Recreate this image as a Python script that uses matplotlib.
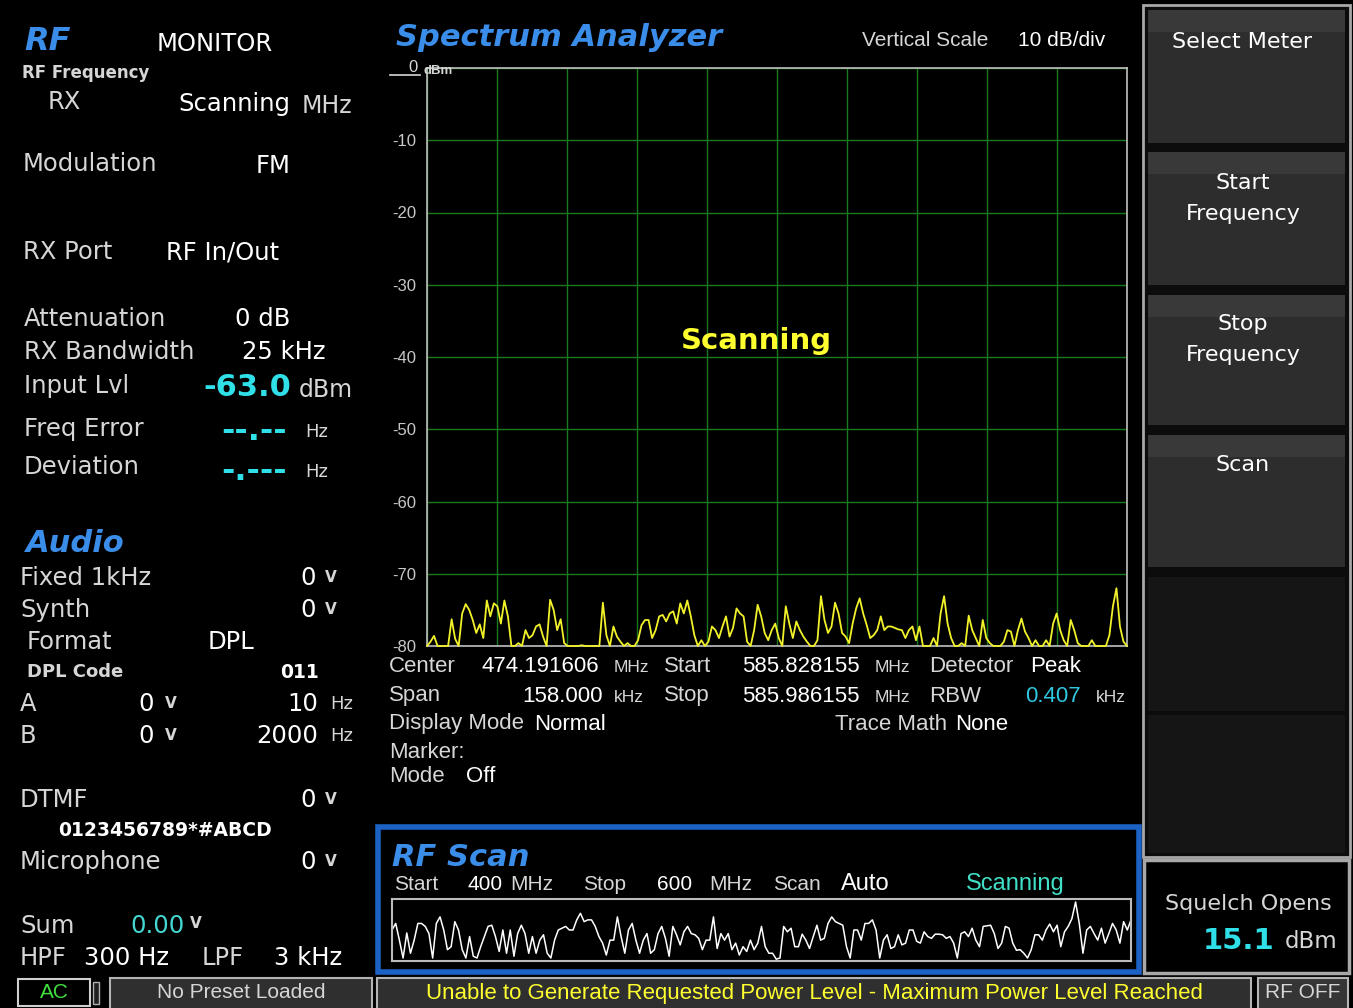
import numpy as np
import matplotlib.pyplot as plt
from matplotlib.patches import Rectangle

W, H = 1353, 1008

# spectrum analyzer trace, dBm per bin between start and stop
spec_start_mhz = 585.828155
spec_stop_mhz = 585.986155
spec_level = [
    -80, -79.4, -78.6, -80, -80, -80, -80, -76.3, -79.0, -80,
    -75.5, -74.2, -75.0, -76.4, -78.2, -77.0, -78.9, -73.7, -75.9, -74.1,
    -74.5, -76.9, -73.7, -75.9, -80, -80, -79.6, -80, -77.8, -78.9,
    -78.5, -77.3, -77.0, -78.7, -80, -73.6, -75.0, -77.8, -76.3, -79.6,
    -80, -80, -80, -80, -79.9, -80, -80, -80, -80, -80,
    -74.0, -78.5, -80, -77.3, -78.7, -79.4, -80, -79.6, -80, -80,
    -79.2, -77.1, -76.4, -76.4, -78.9, -77.8, -75.9, -75.7, -76.6, -75.5,
    -75.2, -76.9, -74.1, -75.5, -73.7, -75.9, -78.5, -80, -79.2, -80,
    -79.4, -77.3, -77.8, -78.9, -77.3, -75.9, -78.7, -77.5, -74.8, -75.5,
    -75.9, -79.4, -80, -77.8, -74.3, -75.9, -78.2, -79.2, -77.8, -76.9,
    -78.9, -80, -74.5, -76.9, -78.9, -76.6, -77.8, -78.7, -79.4, -80,
    -80, -79.2, -73.1, -76.4, -78.2, -77.3, -74.0, -75.5, -78.2, -78.7,
    -79.6, -76.9, -74.8, -73.4, -75.5, -77.1, -78.9, -78.5, -77.8, -75.9,
    -77.8, -77.3, -77.3, -77.5, -77.7, -77.8, -78.9, -77.8, -77.3, -79.2,
    -77.3, -80, -80, -80, -78.9, -80, -75.5, -73.1, -76.9, -78.9,
    -80, -80, -79.6, -80, -75.8, -77.8, -78.9, -80, -76.4, -78.9,
    -79.6, -80, -80, -80, -79.4, -77.8, -78.0, -80, -77.8, -76.2,
    -78.0, -78.9, -80, -79.2, -80, -80, -79.2, -80, -76.9, -75.5,
    -77.8, -79.2, -80, -76.4, -77.8, -79.6, -80, -80, -80, -79.2,
    -80, -80, -80, -80, -78.5, -74.5, -72.0, -77.3, -79.4, -80,
]
spec_ticks = [-80, -70, -60, -50, -40, -30, -20, -10, 0]
spec_tick_labels = ['-80', '-70', '-60', '-50', '-40', '-30', '-20', '-10', '']

# RF scan trace, 400..600 MHz in 1 MHz steps, level in % of window
scan_start_mhz = 400
scan_stop_mhz = 600
scan_level = [
    50, 61, 33, 3, 45, 11, 33, 61, 61, 56,
    44, 3, 61, 72, 50, 17, 22, 64, 50, 17,
    3, 39, 6, 3, 22, 39, 56, 58, 39, 14,
    50, 11, 50, 6, 44, 58, 44, 11, 39, 11,
    33, 42, 11, 3, 33, 50, 53, 56, 50, 50,
    67, 78, 64, 67, 67, 56, 39, 28, 8, 33,
    33, 72, 39, 11, 50, 61, 33, 11, 33, 44,
    11, 17, 44, 56, 36, 6, 56, 42, 25, 47,
    56, 44, 42, 36, 17, 33, 33, 72, 19, 44,
    33, 44, 17, 28, 8, 22, 14, 33, 17, 28,
    56, 22, 11, 11, 1, 3, 56, 47, 53, 22,
    22, 43, 33, 19, 39, 58, 33, 36, 61, 72,
    64, 61, 58, 22, 3, 50, 50, 33, 61, 61,
    67, 50, 3, 33, 42, 19, 22, 42, 25, 28,
    50, 50, 31, 28, 47, 39, 36, 43, 43, 42,
    36, 39, 28, 3, 44, 47, 39, 53, 33, 22,
    56, 57, 58, 44, 19, 28, 56, 53, 28, 16,
    17, 11, 3, 17, 42, 42, 33, 50, 60, 47,
    58, 22, 47, 56, 69, 97, 61, 11, 50, 56,
    44, 33, 53, 28, 44, 61, 50, 28, 64, 50,
    67,
]

# colours
LABEL = '#d6d6d6'
VALUE = '#ffffff'
BLUE = '#3a8de8'
CYAN = '#30e0e8'
YELLOW = '#ffff30'
GRID = '#1c781c'
FRAME = '#a8a8a8'
SANS = ['DejaVu Sans']
NARROW = ['Liberation Sans', 'DejaVu Sans']

fig = plt.figure(figsize=(W / 100, H / 100), dpi=100, facecolor='black')
bg = fig.add_axes([0, 0, 1, 1])
# transparent layer above the plot axes for text that sits on them
fg = fig.add_axes([0, 0, 1, 1], zorder=10)
for a in (bg, fg):
    a.set_xlim(0, W)
    a.set_ylim(H, 0)
    a.axis('off')
fg.patch.set_alpha(0)


def t(x, y, s, size=17.5, color=LABEL, ha='left', weight='normal',
      style='normal', family=SANS, on=None):
    (on or bg).text(x, y, s, fontsize=size, color=color, ha=ha, va='center',
                    fontweight=weight, fontstyle=style, family=family)


def box(x, y, w, h, fc, ec='none', lw=0):
    bg.add_patch(Rectangle((x, y), w, h, facecolor=fc, edgecolor=ec, lw=lw))


# --------------------
# left panel: RF / Audio
# --------------------
t(24, 42, 'RF', 23, BLUE, weight='bold', style='italic')
t(157, 44, 'MONITOR', 17.5, VALUE)
t(22, 73, 'RF Frequency', 12, LABEL, weight='bold')
t(48, 102, 'RX', 17.5)
t(178, 104, 'Scanning', 17.5, VALUE)
t(302, 106, 'MHz', 17)
t(23, 164, 'Modulation')
t(256, 166, 'FM', 17.5, VALUE)
t(23, 252, 'RX Port')
t(166, 253, 'RF In/Out', 17.5, VALUE)
t(24, 319, 'Attenuation')
t(235, 319, '0 dB', 17.5, VALUE)
t(24, 352, 'RX Bandwidth')
t(242, 352, '25 kHz', 17.5, VALUE)
t(24, 386, 'Input Lvl')
t(203, 388, '-63.0', 22, CYAN, weight='bold')
t(299, 390, 'dBm', 17)
t(24, 429, 'Freq Error')
t(221, 431, '--.--', 23, CYAN, weight='bold')
t(305, 432, 'Hz', 13)
t(24, 467, 'Deviation')
t(221, 471, '-.---', 23, CYAN, weight='bold')
t(305, 472, 'Hz', 13)

t(26, 543, 'Audio', 22, BLUE, weight='bold', style='italic')
t(20, 578, 'Fixed 1kHz')
t(20, 610, 'Synth')
t(27, 642, 'Format')
t(208, 642, 'DPL', 17.5, VALUE)
t(27, 672, 'DPL Code', 13, LABEL, weight='bold')
t(280, 672, '011', 13.5, VALUE, weight='bold')
t(20, 704, 'A')
t(138, 704, '0', 17.5, VALUE)
t(165, 704, 'V', 11, weight='bold')
t(318, 704, '10', 17.5, VALUE, ha='right')
t(330, 704, 'Hz', 13)
t(20, 736, 'B')
t(138, 736, '0', 17.5, VALUE)
t(165, 736, 'V', 11, weight='bold')
t(318, 736, '2000', 17.5, VALUE, ha='right')
t(330, 736, 'Hz', 13)
t(20, 800, 'DTMF')
t(58, 830, '0123456789*#ABCD', 13.5, VALUE, weight='bold')
t(20, 862, 'Microphone')
for yv in (578, 610, 800, 862):
    t(300, yv, '0', 17.5, VALUE)
    t(325, yv - 1, 'V', 11, weight='bold')
t(20, 926, 'Sum')
t(130, 926, '0.00', 17.5, '#44d8d0')
t(190, 924, 'V', 11, weight='bold')
t(20, 958, 'HPF')
t(84, 958, '300 Hz', 17.5, VALUE)
t(202, 958, 'LPF')
t(274, 958, '3 kHz', 17.5, VALUE)

# --------------------
# spectrum analyzer
# --------------------
t(396, 38, 'Spectrum Analyzer', 22, BLUE, weight='bold', style='italic')
t(862, 41, 'Vertical Scale', 15, LABEL, family=NARROW)
t(1018, 41, '10 dB/div', 15, VALUE, family=NARROW)
t(413, 67, '0', 12, LABEL, ha='center', family=NARROW)
bg.plot([390, 420], [75, 75], color=LABEL, lw=1.2)
t(423, 71, 'dBm', 9.5, LABEL, weight='bold', family=NARROW, on=fg)

ax = fig.add_axes([427 / W, 1 - 646 / H, 700 / W, 578 / H])
ax.set_facecolor('black')
freq = np.linspace(spec_start_mhz, spec_stop_mhz, len(spec_level))
ax.plot(freq, spec_level, color='#f2f22a', lw=1.3, zorder=3, clip_on=False)
ax.set_xlim(spec_start_mhz, spec_stop_mhz)
ax.set_ylim(-80, 0)
ax.set_xticks(np.linspace(spec_start_mhz, spec_stop_mhz, 11))
ax.set_xticklabels([])
ax.set_yticks(spec_ticks)
ax.set_yticklabels(spec_tick_labels)
ax.tick_params(length=0, pad=8, labelcolor='#c8c8c8', labelsize=12)
for lab in ax.get_yticklabels():
    lab.set_family(NARROW)
ax.set_axisbelow(True)
ax.grid(True, color=GRID, lw=1)
for sp in ax.spines.values():
    sp.set_color('#c0c0c0')
    sp.set_linewidth(1.2)
t(756, 341, 'Scanning', 21, YELLOW, ha='center', weight='bold', on=fg)

# info rows under the spectrum
t(389, 667, 'Center', 16, LABEL, family=NARROW)
t(481, 667, '474.191606', 16, VALUE, family=NARROW)
t(614, 668, 'MHz', 12.5, LABEL, family=NARROW)
t(664, 667, 'Start', 16, LABEL, family=NARROW)
t(742, 667, '585.828155', 16, VALUE, family=NARROW)
t(875, 668, 'MHz', 12.5, LABEL, family=NARROW)
t(929, 667, 'Detector', 16, LABEL, family=NARROW)
t(1030, 667, 'Peak', 16, VALUE, family=NARROW)
t(389, 696, 'Span', 16, LABEL, family=NARROW)
t(522, 696, '158.000', 16, VALUE, family=NARROW)
t(614, 697, 'kHz', 12.5, LABEL, family=NARROW)
t(664, 696, 'Stop', 16, LABEL, family=NARROW)
t(742, 696, '585.986155', 16, VALUE, family=NARROW)
t(875, 697, 'MHz', 12.5, LABEL, family=NARROW)
t(929, 696, 'RBW', 16, LABEL, family=NARROW)
t(1025, 696, '0.407', 16, '#30c8e0', family=NARROW)
t(1096, 697, 'kHz', 12.5, LABEL, family=NARROW)
t(389, 724, 'Display Mode', 16, LABEL, family=NARROW)
t(534, 724, 'Normal', 16, VALUE, family=NARROW)
t(835, 724, 'Trace Math', 16, LABEL, family=NARROW)
t(955, 724, 'None', 16, VALUE, family=NARROW)
t(389, 752, 'Marker:', 16, LABEL, family=NARROW)
t(389, 776, 'Mode', 16, LABEL, family=NARROW)
t(466, 776, 'Off', 16, VALUE, family=NARROW)

# --------------------
# RF scan window
# --------------------
box(378, 827, 761, 145, 'black', '#1c62c4', 4)
t(392, 857, 'RF Scan', 22, BLUE, weight='bold', style='italic')
t(394, 885, 'Start', 15, LABEL, family=NARROW)
t(468, 885, '400', 15, VALUE, family=NARROW)
t(510, 885, 'MHz', 15, LABEL, family=NARROW)
t(583, 885, 'Stop', 15, LABEL, family=NARROW)
t(657, 885, '600', 15, VALUE, family=NARROW)
t(709, 885, 'MHz', 15, LABEL, family=NARROW)
t(773, 885, 'Scan', 15, LABEL, family=NARROW)
t(841, 884, 'Auto', 17, VALUE, family=NARROW)
t(966, 884, 'Scanning', 17, '#40e0c8', family=NARROW)

sx = fig.add_axes([392 / W, 1 - 961 / H, 739 / W, 62 / H])
sx.set_facecolor('black')
scan_freq = np.linspace(scan_start_mhz, scan_stop_mhz, len(scan_level))
sx.plot(scan_freq, scan_level, color='white', lw=1.1)
sx.set_xlim(scan_start_mhz, scan_stop_mhz)
sx.set_ylim(-2, 102)
sx.set_xticks([])
sx.set_yticks([])
for sp in sx.spines.values():
    sp.set_color('#bcbcbc')
    sp.set_linewidth(1.5)

# --------------------
# right soft keys
# --------------------
box(1143, 5, 207, 852, '#0c0c0c', FRAME, 2)
for y0, y1 in [(10, 143), (152, 285), (295, 425), (435, 567)]:
    box(1148, y0, 197, y1 - y0, '#2d2d2d')
    box(1148, y0, 197, 22, '#393939')
box(1148, 577, 197, 134, '#151515')
box(1148, 715, 197, 138, '#151515')
t(1242, 42, 'Select Meter', 16, VALUE, ha='center')
t(1243, 183, 'Start', 16, VALUE, ha='center')
t(1243, 214, 'Frequency', 16, VALUE, ha='center')
t(1243, 324, 'Stop', 16, VALUE, ha='center')
t(1243, 355, 'Frequency', 16, VALUE, ha='center')
t(1243, 465, 'Scan', 16, VALUE, ha='center')

box(1144, 860, 205, 113, 'black', FRAME, 2.5)
t(1248, 904, 'Squelch Opens', 16, LABEL, ha='center')
t(1275, 941, '15.1', 21, CYAN, ha='right', weight='bold')
t(1285, 942, 'dBm', 16.5, LABEL)

# --------------------
# status bar
# --------------------
box(18, 979, 72, 27, 'black', '#d0d0d0', 1.5)
t(54, 993, 'AC', 15, '#3ee03e', ha='center', family=NARROW)
box(93, 982, 6, 22, '#202020', '#b0b0b0', 1)
box(110, 978, 262, 32, '#2f2f2f', '#b4b4b4', 1.5)
t(241, 993, 'No Preset Loaded', 15, LABEL, ha='center', family=NARROW)
box(377, 978, 874, 32, '#2f2f2f', '#b4b4b4', 1.5)
t(814, 993, 'Unable to Generate Requested Power Level - Maximum Power Level Reached',
  16, YELLOW, ha='center', family=NARROW)
box(1258, 978, 90, 32, '#353535', '#b4b4b4', 1.5)
t(1303, 993, 'RF OFF', 15, LABEL, ha='center', family=NARROW)

fig.savefig('out.png', dpi=100, facecolor='black')
